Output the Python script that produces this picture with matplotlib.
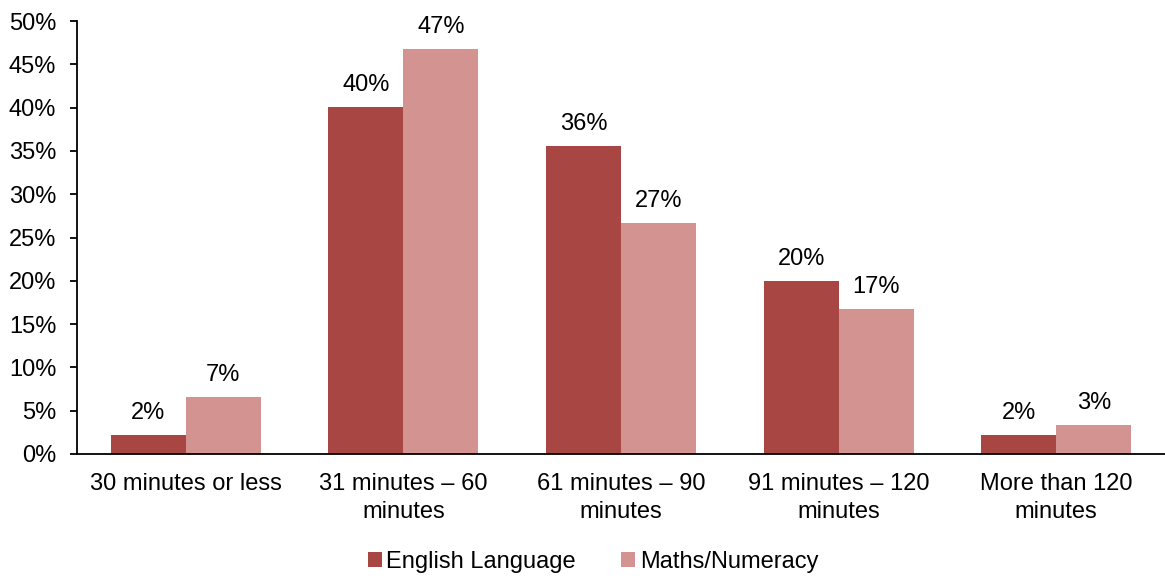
import matplotlib.pyplot as plt
import numpy as np
from matplotlib.ticker import PercentFormatter

plt.rcParams["font.family"] = ["Liberation Sans", "DejaVu Sans"]

categories = ["30 minutes or less", "31 minutes \u2013 60\nminutes", "61 minutes \u2013 90\nminutes",
              "91 minutes \u2013 120\nminutes", "More than 120\nminutes"]
english = [2.2, 40.1, 35.6, 20.0, 2.2]
maths = [6.6, 46.8, 26.7, 16.7, 3.3]

fs = 17

fig = plt.figure(figsize=(11.65, 5.78), dpi=100)
ax = fig.add_axes([77 / 1165, 1 - 454 / 578, 1 - 77 / 1165, (454 - 21) / 578])

x = np.arange(len(categories))
w = 0.345
b1 = ax.bar(x - w / 2, english, w, color="#A84644", label="English Language")
b2 = ax.bar(x + w / 2, maths, w, color="#D29391", label="Maths/Numeracy")

for bars, vals in ((b1, english), (b2, maths)):
    for rect, v in zip(bars, vals):
        ax.annotate(f"{v:.0f}%", (rect.get_x() + rect.get_width() / 2, v),
                    xytext=(0, 8), textcoords="offset points",
                    ha="center", va="bottom", fontsize=fs)

ax.set_xlim(-0.5, len(categories) - 0.5)
ax.set_ylim(0, 50)
ax.set_yticks(np.arange(0, 51, 5))
ax.yaxis.set_major_formatter(PercentFormatter(decimals=0))
ax.set_xticks(x)
ax.set_xticklabels(categories, fontsize=fs, linespacing=1.3)
ax.tick_params(axis="x", length=0, pad=14)
ax.tick_params(axis="y", length=5, width=1.3, labelsize=fs, pad=10)

for s in ("top", "right"):
    ax.spines[s].set_visible(False)
for s in ("left", "bottom"):
    ax.spines[s].set_linewidth(1.3)

fig.legend(loc="center", bbox_to_anchor=(0.509, 0.028), ncol=2, frameon=False,
           fontsize=fs, handlelength=0.6, handleheight=0.6, handletextpad=0.2,
           columnspacing=1.9)

fig.savefig("out.png", dpi=100)
